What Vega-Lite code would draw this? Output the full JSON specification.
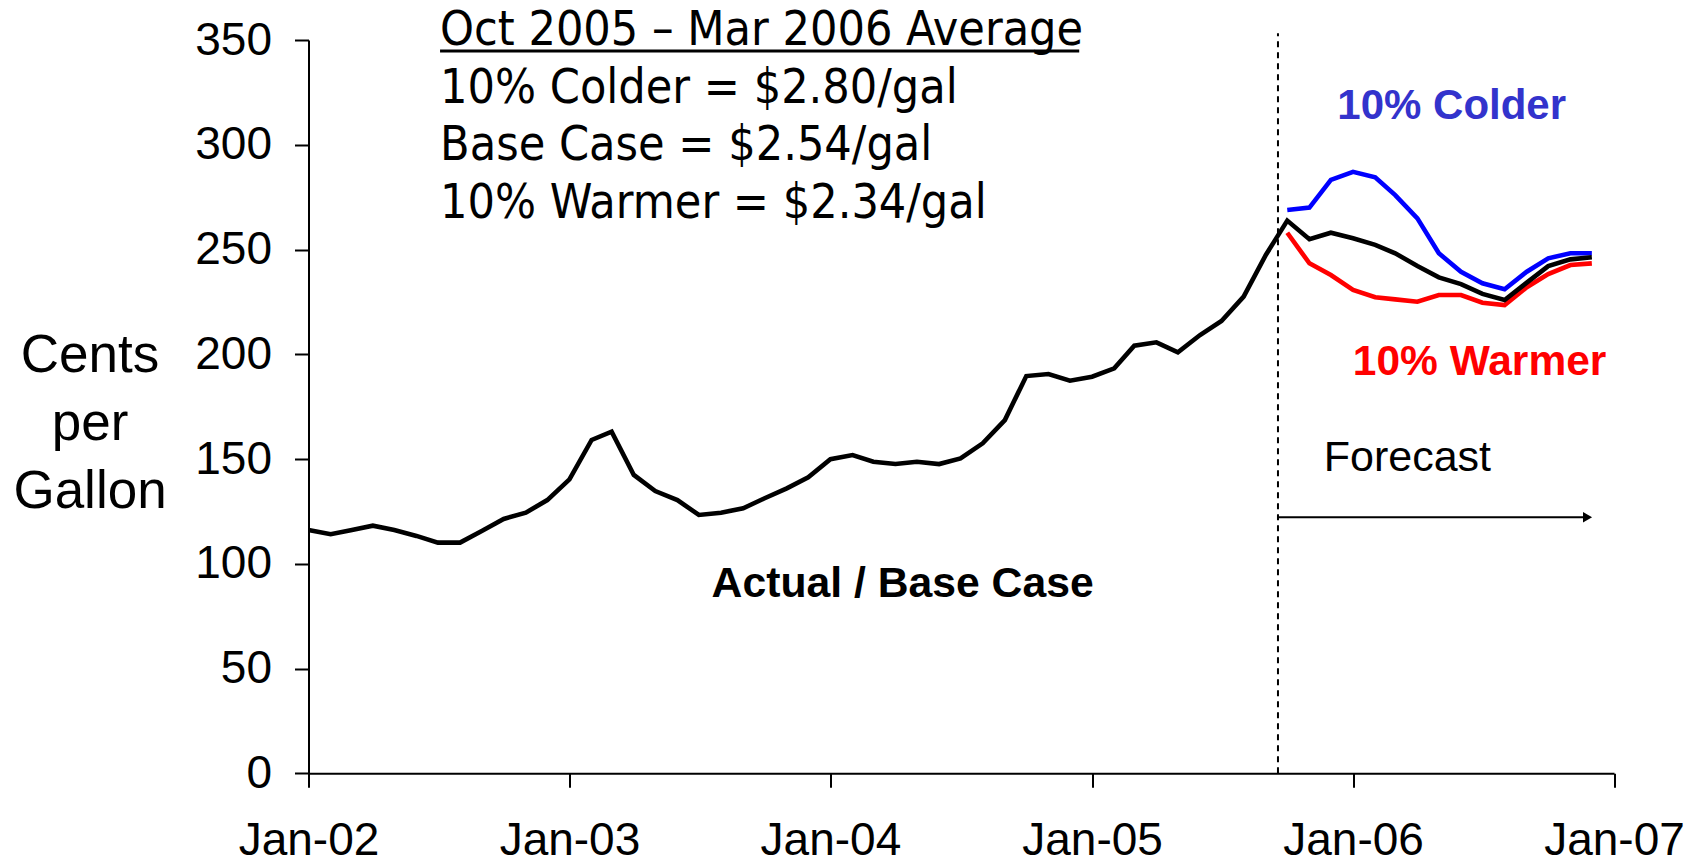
{
  "$schema": "https://vega.github.io/schema/vega-lite/v6.json",
  "width": 1305.5,
  "height": 733.3,
  "autosize": {"type": "none"},
  "padding": {"left": 308.5, "top": 40, "right": 85, "bottom": 91.7},
  "background": "white",
  "config": {"view": {"stroke": null}, "font": "Liberation Sans"},
  "datasets": {
    "prices": [
      {"date": "2002-01-01", "series": "Actual / Base Case", "value": 116.1},
      {"date": "2002-02-01", "series": "Actual / Base Case", "value": 114.1},
      {"date": "2002-03-01", "series": "Actual / Base Case", "value": 116.0},
      {"date": "2002-04-01", "series": "Actual / Base Case", "value": 118.2},
      {"date": "2002-05-01", "series": "Actual / Base Case", "value": 116.1},
      {"date": "2002-06-01", "series": "Actual / Base Case", "value": 113.3},
      {"date": "2002-07-01", "series": "Actual / Base Case", "value": 110.1},
      {"date": "2002-08-01", "series": "Actual / Base Case", "value": 110.1},
      {"date": "2002-09-01", "series": "Actual / Base Case", "value": 115.8},
      {"date": "2002-10-01", "series": "Actual / Base Case", "value": 121.4},
      {"date": "2002-11-01", "series": "Actual / Base Case", "value": 124.4},
      {"date": "2002-12-01", "series": "Actual / Base Case", "value": 130.4},
      {"date": "2003-01-01", "series": "Actual / Base Case", "value": 140.3},
      {"date": "2003-02-01", "series": "Actual / Base Case", "value": 159.1},
      {"date": "2003-03-01", "series": "Actual / Base Case", "value": 163.1},
      {"date": "2003-04-01", "series": "Actual / Base Case", "value": 142.4},
      {"date": "2003-05-01", "series": "Actual / Base Case", "value": 134.7},
      {"date": "2003-06-01", "series": "Actual / Base Case", "value": 130.4},
      {"date": "2003-07-01", "series": "Actual / Base Case", "value": 123.3},
      {"date": "2003-08-01", "series": "Actual / Base Case", "value": 124.4},
      {"date": "2003-09-01", "series": "Actual / Base Case", "value": 126.5},
      {"date": "2003-10-01", "series": "Actual / Base Case", "value": 131.3},
      {"date": "2003-11-01", "series": "Actual / Base Case", "value": 136.0},
      {"date": "2003-12-01", "series": "Actual / Base Case", "value": 141.3},
      {"date": "2004-01-01", "series": "Actual / Base Case", "value": 149.9},
      {"date": "2004-02-01", "series": "Actual / Base Case", "value": 151.9},
      {"date": "2004-03-01", "series": "Actual / Base Case", "value": 148.7},
      {"date": "2004-04-01", "series": "Actual / Base Case", "value": 147.6},
      {"date": "2004-05-01", "series": "Actual / Base Case", "value": 148.7},
      {"date": "2004-06-01", "series": "Actual / Base Case", "value": 147.6},
      {"date": "2004-07-01", "series": "Actual / Base Case", "value": 150.3},
      {"date": "2004-08-01", "series": "Actual / Base Case", "value": 157.5},
      {"date": "2004-09-01", "series": "Actual / Base Case", "value": 168.6},
      {"date": "2004-10-01", "series": "Actual / Base Case", "value": 189.6},
      {"date": "2004-11-01", "series": "Actual / Base Case", "value": 190.6},
      {"date": "2004-12-01", "series": "Actual / Base Case", "value": 187.4},
      {"date": "2005-01-01", "series": "Actual / Base Case", "value": 189.3},
      {"date": "2005-02-01", "series": "Actual / Base Case", "value": 193.3},
      {"date": "2005-03-01", "series": "Actual / Base Case", "value": 204.1},
      {"date": "2005-04-01", "series": "Actual / Base Case", "value": 205.7},
      {"date": "2005-05-01", "series": "Actual / Base Case", "value": 200.9},
      {"date": "2005-06-01", "series": "Actual / Base Case", "value": 209.2},
      {"date": "2005-07-01", "series": "Actual / Base Case", "value": 215.9},
      {"date": "2005-08-01", "series": "Actual / Base Case", "value": 227.5},
      {"date": "2005-09-01", "series": "Actual / Base Case", "value": 247.4},
      {"date": "2005-10-01", "series": "Actual / Base Case", "value": 263.8},
      {"date": "2005-11-01", "series": "Actual / Base Case", "value": 254.9},
      {"date": "2005-12-01", "series": "Actual / Base Case", "value": 258.0},
      {"date": "2006-01-01", "series": "Actual / Base Case", "value": 255.4},
      {"date": "2006-02-01", "series": "Actual / Base Case", "value": 252.2},
      {"date": "2006-03-01", "series": "Actual / Base Case", "value": 248.2},
      {"date": "2006-04-01", "series": "Actual / Base Case", "value": 242.1},
      {"date": "2006-05-01", "series": "Actual / Base Case", "value": 236.7},
      {"date": "2006-06-01", "series": "Actual / Base Case", "value": 233.5},
      {"date": "2006-07-01", "series": "Actual / Base Case", "value": 228.8},
      {"date": "2006-08-01", "series": "Actual / Base Case", "value": 225.9},
      {"date": "2006-09-01", "series": "Actual / Base Case", "value": 234.2},
      {"date": "2006-10-01", "series": "Actual / Base Case", "value": 242.1},
      {"date": "2006-11-01", "series": "Actual / Base Case", "value": 245.3},
      {"date": "2006-12-01", "series": "Actual / Base Case", "value": 246.3},
      {"date": "2005-10-01", "series": "10% Colder", "value": 268.9},
      {"date": "2005-11-01", "series": "10% Colder", "value": 270.0},
      {"date": "2005-12-01", "series": "10% Colder", "value": 283.2},
      {"date": "2006-01-01", "series": "10% Colder", "value": 287.1},
      {"date": "2006-02-01", "series": "10% Colder", "value": 284.5},
      {"date": "2006-03-01", "series": "10% Colder", "value": 276.0},
      {"date": "2006-04-01", "series": "10% Colder", "value": 264.9},
      {"date": "2006-05-01", "series": "10% Colder", "value": 248.2},
      {"date": "2006-06-01", "series": "10% Colder", "value": 239.4},
      {"date": "2006-07-01", "series": "10% Colder", "value": 233.9},
      {"date": "2006-08-01", "series": "10% Colder", "value": 231.0},
      {"date": "2006-09-01", "series": "10% Colder", "value": 239.4},
      {"date": "2006-10-01", "series": "10% Colder", "value": 245.8},
      {"date": "2006-11-01", "series": "10% Colder", "value": 248.2},
      {"date": "2006-12-01", "series": "10% Colder", "value": 248.2},
      {"date": "2005-10-01", "series": "10% Warmer", "value": 258.0},
      {"date": "2005-11-01", "series": "10% Warmer", "value": 243.4},
      {"date": "2005-12-01", "series": "10% Warmer", "value": 237.8},
      {"date": "2006-01-01", "series": "10% Warmer", "value": 230.7},
      {"date": "2006-02-01", "series": "10% Warmer", "value": 227.2},
      {"date": "2006-03-01", "series": "10% Warmer", "value": 226.2},
      {"date": "2006-04-01", "series": "10% Warmer", "value": 225.1},
      {"date": "2006-05-01", "series": "10% Warmer", "value": 228.3},
      {"date": "2006-06-01", "series": "10% Warmer", "value": 228.3},
      {"date": "2006-07-01", "series": "10% Warmer", "value": 224.6},
      {"date": "2006-08-01", "series": "10% Warmer", "value": 223.5},
      {"date": "2006-09-01", "series": "10% Warmer", "value": 232.0},
      {"date": "2006-10-01", "series": "10% Warmer", "value": 238.3},
      {"date": "2006-11-01", "series": "10% Warmer", "value": 242.6},
      {"date": "2006-12-01", "series": "10% Warmer", "value": 243.4}
    ]
  },
  "data": {"name": "prices"},
  "layer": [
    {
      "transform": [{"filter": "datum.series === '10% Colder'"}],
      "mark": {"type": "line", "color": "#0000FF", "strokeWidth": 4.6},
      "encoding": {
        "x": {
          "field": "date",
          "type": "temporal",
          "scale": {
            "type": "utc",
            "domain": [
              {"year": 2002, "month": 1, "date": 1, "utc": true},
              {"year": 2007, "month": 1, "date": 1, "utc": true}
            ]
          },
          "axis": {
            "title": null,
            "grid": false,
            "values": [
              {"year": 2002, "month": 1, "date": 1, "utc": true},
              {"year": 2003, "month": 1, "date": 1, "utc": true},
              {"year": 2004, "month": 1, "date": 1, "utc": true},
              {"year": 2005, "month": 1, "date": 1, "utc": true},
              {"year": 2006, "month": 1, "date": 1, "utc": true},
              {"year": 2007, "month": 1, "date": 1, "utc": true}
            ],
            "format": "%b-%y",
            "domainColor": "#000000",
            "domainWidth": 2,
            "tickColor": "#000000",
            "tickWidth": 2,
            "tickSize": 14,
            "labelFont": "Liberation Sans",
            "labelFontSize": 46,
            "labelColor": "#000000",
            "labelPadding": 31,
            "labelFlush": false,
            "labelOverlap": false,
            "labelBound": false
          }
        },
        "y": {
          "field": "value",
          "type": "quantitative",
          "scale": {"domain": [0, 350], "nice": false, "zero": true},
          "axis": {
            "values": [0, 50, 100, 150, 200, 250, 300, 350],
            "grid": false,
            "domainColor": "#000000",
            "domainWidth": 2,
            "tickColor": "#000000",
            "tickWidth": 2,
            "tickSize": 14,
            "labelFont": "Liberation Sans",
            "labelFontSize": 46,
            "labelColor": "#000000",
            "labelPadding": 23,
            "labelFlush": false,
            "labelOverlap": false,
            "labelBound": false,
            "title": ["Cents", "per", "Gallon"],
            "titleFont": "Liberation Sans",
            "titleFontSize": 53,
            "titleFontWeight": "normal",
            "titleColor": "#000000",
            "titleAngle": 0,
            "titleAlign": "center",
            "titleBaseline": "alphabetic",
            "titleX": -219,
            "titleY": 331.5,
            "titleLineHeight": 68
          }
        }
      }
    },
    {
      "transform": [{"filter": "datum.series === '10% Warmer'"}],
      "mark": {"type": "line", "color": "#FF0000", "strokeWidth": 4.6},
      "encoding": {
        "x": {"field": "date", "type": "temporal"},
        "y": {"field": "value", "type": "quantitative"}
      }
    },
    {
      "transform": [{"filter": "datum.series === 'Actual / Base Case'"}],
      "mark": {"type": "line", "color": "#000000", "strokeWidth": 4.6},
      "encoding": {
        "x": {"field": "date", "type": "temporal"},
        "y": {"field": "value", "type": "quantitative"}
      }
    },
    {
      "data": {"values": [{}]},
      "mark": {"type": "rule", "color": "#000000", "strokeWidth": 2, "strokeDash": [6, 5]},
      "encoding": {
        "x": {"datum": {"year": 2005, "month": 9, "date": 18, "utc": true}},
        "y": {"datum": 0},
        "y2": {"datum": 353.2}
      }
    },
    {
      "data": {"values": [{}]},
      "mark": {"type": "rule", "color": "#000000", "strokeWidth": 2},
      "encoding": {
        "x": {"datum": {"year": 2005, "month": 9, "date": 18, "utc": true}},
        "x2": {"datum": {"year": 2006, "month": 11, "date": 25, "utc": true}},
        "y": {"datum": 122.2}
      }
    },
    {
      "data": {"values": [{}]},
      "mark": {"type": "point", "shape": "triangle-right", "filled": true, "color": "#000000", "size": 110, "opacity": 1},
      "encoding": {
        "x": {"datum": {"year": 2006, "month": 11, "date": 25, "utc": true}},
        "y": {"datum": 122.2}
      }
    },
    {
      "data": {"values": [{}]},
      "mark": {"type": "text", "align": "left", "baseline": "alphabetic", "font": "DejaVu Sans Condensed", "fontSize": 48, "lineHeight": 57.5, "color": "#000000"},
      "encoding": {
        "x": {"datum": {"year": 2002, "month": 7, "date": 4, "utc": true}},
        "y": {"datum": 347.4},
        "text": {"value": ["Oct 2005 – Mar 2006 Average", "10% Colder = $2.80/gal", "Base Case = $2.54/gal", "10% Warmer = $2.34/gal"]}
      }
    },
    {
      "data": {"values": [{}]},
      "mark": {"type": "rule", "color": "#000000", "strokeWidth": 3},
      "encoding": {
        "x": {"datum": {"year": 2002, "month": 7, "date": 4, "utc": true}},
        "x2": {"datum": {"year": 2004, "month": 12, "date": 14, "utc": true}},
        "y": {"datum": 344.7}
      }
    },
    {
      "data": {"values": [{}]},
      "mark": {"type": "text", "align": "center", "baseline": "alphabetic", "font": "Liberation Sans", "fontWeight": "bold", "fontSize": 42, "color": "#3333CC"},
      "encoding": {
        "x": {"datum": {"year": 2006, "month": 5, "date": 19, "utc": true}},
        "y": {"datum": 312.2},
        "text": {"value": "10% Colder"}
      }
    },
    {
      "data": {"values": [{}]},
      "mark": {"type": "text", "align": "center", "baseline": "alphabetic", "font": "Liberation Sans", "fontWeight": "bold", "fontSize": 42.5, "color": "#FF0000"},
      "encoding": {
        "x": {"datum": {"year": 2006, "month": 6, "date": 27, "utc": true}},
        "y": {"datum": 190.1},
        "text": {"value": "10% Warmer"}
      }
    },
    {
      "data": {"values": [{}]},
      "mark": {"type": "text", "align": "center", "baseline": "alphabetic", "font": "Liberation Sans", "fontSize": 43, "color": "#000000"},
      "encoding": {
        "x": {"datum": {"year": 2006, "month": 3, "date": 18, "utc": true}},
        "y": {"datum": 144.5},
        "text": {"value": "Forecast"}
      }
    },
    {
      "data": {"values": [{}]},
      "mark": {"type": "text", "align": "center", "baseline": "alphabetic", "font": "Liberation Sans", "fontWeight": "bold", "fontSize": 42.7, "color": "#000000"},
      "encoding": {
        "x": {"datum": {"year": 2004, "month": 4, "date": 11, "utc": true}},
        "y": {"datum": 84.1},
        "text": {"value": "Actual / Base Case"}
      }
    }
  ]
}
